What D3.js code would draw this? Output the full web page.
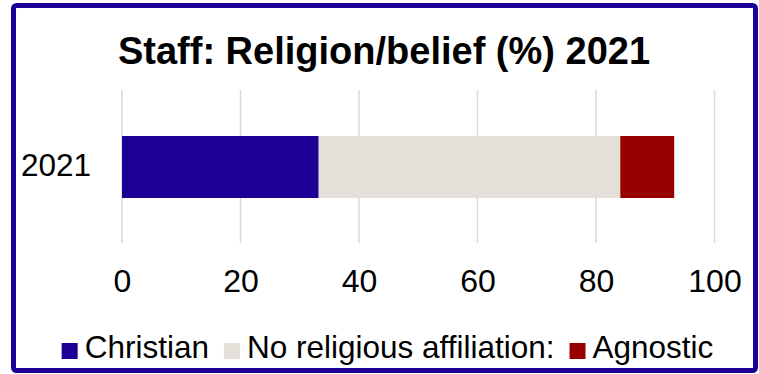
<!DOCTYPE html>
<html>
<head>
<meta charset="utf-8">
<script src="https://cdn.jsdelivr.net/npm/d3@7"></script>
<style>
  html, body { margin: 0; padding: 0; background: #fff; }
  svg { display: block; font-family: "Liberation Sans", Arial, sans-serif; }
</style>
</head>
<body>
<svg id="chart" width="759" height="374"></svg>
<script>
// Data
const categories = ["2021"];
const seriesNames = ["Christian", "No religious affiliation:", "Agnostic"];
const seriesColors = ["#1c0096", "#e3e0da", "#990000"];
const christian = [33.2];
const noReligion = [50.9];
const agnostic = [9.1];
const tickValues = [0, 20, 40, 60, 80, 100];
const title = "Staff: Religion/belief (%) 2021";

const W = 759, H = 374;
const svg = d3.select("#chart");

// Frame
svg.append("rect")
  .attr("x", 13.5).attr("y", 5.5)
  .attr("width", 742).attr("height", 365)
  .attr("rx", 3)
  .attr("fill", "#fff")
  .attr("stroke", "#1c0096")
  .attr("stroke-width", 5);

// Title
svg.append("text")
  .attr("x", 384).attr("y", 64)
  .attr("text-anchor", "middle")
  .attr("font-size", 38)
  .attr("font-weight", "bold")
  .attr("fill", "#000")
  .text(title);

// Scales
const x = d3.scaleLinear().domain([0, 100]).range([122, 714.5]);
const y = d3.scaleBand().domain(categories).range([136, 198]);

// Gridlines
svg.append("g")
  .selectAll("line")
  .data(tickValues)
  .join("line")
  .attr("x1", d => x(d)).attr("x2", d => x(d))
  .attr("y1", 90).attr("y2", 243)
  .attr("stroke", "#d9d9d9")
  .attr("stroke-width", 1.5);

// Stacked bars
const rows = categories.map((c, i) => ({
  category: c,
  "Christian": christian[i],
  "No religious affiliation:": noReligion[i],
  "Agnostic": agnostic[i]
}));
const stack = d3.stack().keys(seriesNames)(rows);

svg.append("g")
  .selectAll("g")
  .data(stack)
  .join("g")
  .attr("fill", (d, i) => seriesColors[i])
  .selectAll("rect")
  .data(d => d)
  .join("rect")
  .attr("x", d => x(d[0]))
  .attr("width", d => x(d[1]) - x(d[0]))
  .attr("y", d => y(d.data.category))
  .attr("height", y.bandwidth());

// Category axis labels
svg.append("g")
  .selectAll("text")
  .data(categories)
  .join("text")
  .attr("x", 91)
  .attr("y", d => y(d) + y.bandwidth() / 2 - 2)
  .attr("dy", "0.35em")
  .attr("text-anchor", "end")
  .attr("font-size", 31.5)
  .attr("fill", "#000")
  .text(d => d);

// Value axis
const xAxis = d3.axisBottom(x).tickValues(tickValues).tickSize(0).tickPadding(0).tickFormat(d3.format("d"));
const gx = svg.append("g").attr("transform", "translate(0,292)").call(xAxis);
gx.select(".domain").remove();
gx.selectAll("text")
  .attr("font-size", 32)
  .attr("font-family", "Liberation Sans, Arial, sans-serif")
  .attr("fill", "#000")
  .attr("dy", 0)
  .attr("y", 0);

// Legend
const legend = svg.append("g");
const items = legend.selectAll("g")
  .data(seriesNames)
  .join("g");
items.append("rect")
  .attr("width", 16).attr("height", 16)
  .attr("y", -15)
  .attr("fill", (d, i) => seriesColors[i]);
items.append("text")
  .attr("x", 23)
  .attr("y", 0)
  .attr("font-size", 31.5)
  .attr("fill", "#000")
  .text(d => d);

let cursor = 0;
items.each(function () {
  const g = d3.select(this);
  const tw = g.select("text").node().getComputedTextLength();
  g.attr("transform", `translate(${cursor},0)`);
  cursor += 23 + tw + 15;
});
const total = cursor - 15;
legend.attr("transform", `translate(${(W - total) / 2 + 8},358)`);
</script>
</body>
</html>
